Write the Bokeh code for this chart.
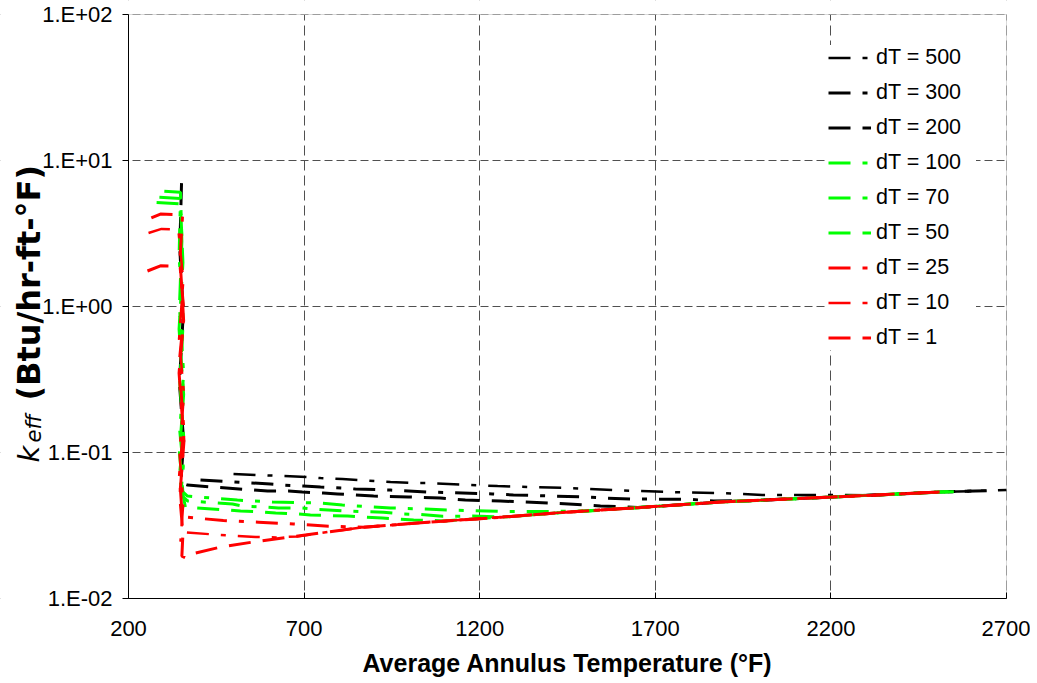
from bokeh.plotting import figure
from bokeh.models import FixedTicker, Label, Legend, LegendItem, Range1d, BoxAnnotation
from bokeh.embed import file_html
from bokeh.resources import INLINE
import math

# ---------------- data ----------------
x_ticks = [200, 700, 1200, 1700, 2200, 2700]
y_ticks = [0.01, 0.1, 1, 10, 100]
y_tick_labels = ["1.E-02", "1.E-01", "1.E+00", "1.E+01", "1.E+02"]
x_title = "Average Annulus Temperature (°F)"

series_labels = ["dT = 500", "dT = 300", "dT = 200", "dT = 100", "dT = 70",
                 "dT = 50", "dT = 25", "dT = 10", "dT = 1"]

x_dT500 = [499, 710, 747, 809, 946, 1009, 1046, 1251, 1450, 1649, 1743, 1886, 2005, 2199, 2320, 2512, 2700]
k_dT500 = [0.0712, 0.0679, 0.0668, 0.0658, 0.0628, 0.0618, 0.0618, 0.0589, 0.0571, 0.0545, 0.0536, 0.0527, 0.0512, 0.0511, 0.0510, 0.0536, 0.0553]

x_dT300 = [405, 604, 641, 698, 747, 809, 846, 946, 1051, 1236, 1296, 1410, 1496, 1552, 1638, 1800, 1866, 2000, 2207, 2512, 2650]
k_dT300 = [0.0649, 0.0608, 0.0598, 0.0589, 0.0580, 0.0571, 0.0562, 0.0553, 0.0536, 0.0520, 0.0512, 0.0503, 0.0496, 0.0488, 0.0480, 0.0478, 0.0465, 0.0471, 0.0496, 0.0536, 0.0548]

x_dT200 = [351, 346, 356, 345, 357, 349, 368, 556, 596, 656, 695, 755, 795, 898, 997, 1088, 1159, 1259, 1396, 1453, 1544, 1650, 1886, 2207, 2512, 2600]
k_dT200 = [7.0, 2.5, 0.9, 0.3, 0.12, 0.062, 0.0598, 0.0553, 0.0545, 0.0545, 0.0536, 0.0527, 0.0520, 0.0503, 0.0496, 0.0488, 0.0472, 0.0465, 0.0451, 0.0444, 0.0430, 0.0420, 0.0458, 0.0496, 0.0536, 0.0545]

x_dT100 = [302, 348, 352, 345, 357, 346, 356, 350, 368, 510, 610, 741, 809, 946, 1046, 1111, 1280, 1500, 1650, 1886, 2207, 2512, 2550]
k_dT100 = [6.15, 6.05, 2.8, 1.0, 0.35, 0.14, 0.08, 0.055, 0.0503, 0.0472, 0.0458, 0.0451, 0.0437, 0.0417, 0.0410, 0.0404, 0.0394, 0.0396, 0.0419, 0.0458, 0.0496, 0.0536, 0.0539]

x_dT70 = [288, 348, 344, 356, 346, 357, 345, 354, 368, 496, 525, 596, 627, 690, 727, 826, 926, 983, 1031, 1094, 1180, 1265, 1458, 1650, 1886, 2207, 2512, 2535]
k_dT70 = [5.6, 5.5, 2.2, 0.8, 0.3, 0.13, 0.07, 0.05, 0.0466, 0.0444, 0.0430, 0.0422, 0.0417, 0.0417, 0.0410, 0.0397, 0.0390, 0.0379, 0.0376, 0.0366, 0.0367, 0.0361, 0.0392, 0.0419, 0.0458, 0.0496, 0.0536, 0.0538]

x_dT50 = [280, 348, 355, 344, 357, 345, 356, 362, 482, 519, 584, 619, 684, 718, 824, 923, 1012, 1100, 1265, 1458, 1650, 1886, 2207, 2512, 2525]
k_dT50 = [5.15, 5.05, 2.0, 0.7, 0.25, 0.10, 0.05, 0.0422, 0.0404, 0.0397, 0.0391, 0.0385, 0.0379, 0.0373, 0.0367, 0.0356, 0.0345, 0.0340, 0.0361, 0.0392, 0.0419, 0.0458, 0.0496, 0.0536, 0.0537]

x_dT25 = [265, 291, 354, 346, 358, 344, 357, 345, 353, 362, 470, 570, 670, 770, 869, 1060, 1265, 1458, 1650, 1886, 2207, 2512]
k_dT25 = [4.04, 4.3, 4.25, 2.0, 0.9, 0.4, 0.15, 0.07, 0.037, 0.0361, 0.0342, 0.0333, 0.0324, 0.0313, 0.0308, 0.0334, 0.0361, 0.0392, 0.0419, 0.0458, 0.0496, 0.0536]

x_dT10 = [257, 294, 342, 356, 344, 358, 345, 356, 348, 356, 462, 562, 620, 680, 770, 869, 1060, 1265, 1458, 1650, 1886, 2207, 2505]
k_dT10 = [3.19, 3.4, 3.35, 1.5, 0.6, 0.25, 0.10, 0.045, 0.0245, 0.0285, 0.0272, 0.0264, 0.0262, 0.0266, 0.0286, 0.0308, 0.0334, 0.0361, 0.0392, 0.0419, 0.0458, 0.0496, 0.0535]

x_dT1 = [254, 291, 348, 357, 344, 358, 346, 355, 352, 362, 377, 462, 556, 661, 770, 869, 1060, 1265, 1458, 1650, 1886, 2207, 2500]
k_dT1 = [1.75, 1.9, 1.88, 0.8, 0.35, 0.12, 0.05, 0.028, 0.0195, 0.0190, 0.0201, 0.0225, 0.0244, 0.0264, 0.0286, 0.0308, 0.0334, 0.0361, 0.0392, 0.0419, 0.0458, 0.0496, 0.0535]

series_x = [x_dT500, x_dT300, x_dT200, x_dT100, x_dT70, x_dT50, x_dT25, x_dT10, x_dT1]
series_k = [k_dT500, k_dT300, k_dT200, k_dT100, k_dT70, k_dT50, k_dT25, k_dT10, k_dT1]

# ---------------- styles ----------------
BLACK, GREEN, RED = "#000000", "#00FF00", "#FF0000"
colors = [BLACK, BLACK, BLACK, GREEN, GREEN, GREEN, RED, RED, RED]
dashes = ["22 12 5 12", "22 12 5 12", "22 12", "22 12 5 12", "22 12 5 12", "22 12",
          "22 12 5 12", "22 12 5 12", "22 12"]
widths = [2.5, 3, 3, 3, 3, 3, 3, 2.5, 3]
FONT = "Liberation Sans"
TITLE_FONT = "DejaVu Sans"
GRID = "#505050"

# ---------------- layout geometry (canvas pixels) ----------------
W, H = 1030, 680
PL, PR, PT, PB = 128, 1006, 14, 598           # data-area edges
XMIN, XMAX = 200, 2700
LMIN, LMAX = -2, 2                            # log10 of y limits
x_per_px = (XMAX - XMIN) / (PR - PL)
dec_per_px = (LMAX - LMIN) / (PB - PT)
x_start = XMIN - PL * x_per_px
x_end = XMAX + (W - PR) * x_per_px
y_start = 10 ** (LMIN - (H - PB) * dec_per_px)
y_end = 10 ** (LMAX + PT * dec_per_px)


def X(px):
    return x_start + px * x_per_px


def Y(py):
    return 10 ** (math.log10(y_end) - py * dec_per_px)


p = figure(width=W, height=H, x_range=Range1d(x_start, x_end), y_range=Range1d(y_start, y_end),
           y_axis_type="log", output_backend="svg", toolbar_location=None, min_border=0)
p.title.visible = False
p.background_fill_color = "white"
p.border_fill_color = "white"
p.outline_line_color = None

# axes placed at the data-area edges
p.xaxis.fixed_location = y_ticks[0]
p.xaxis.bounds = (XMIN, XMAX)
p.yaxis.fixed_location = XMIN
p.yaxis.bounds = (y_ticks[0], y_ticks[-1])
p.xaxis.ticker = FixedTicker(ticks=x_ticks)
p.yaxis.ticker = FixedTicker(ticks=y_ticks)
p.yaxis.major_label_overrides = {t: l for t, l in zip(y_ticks, y_tick_labels)}
for ax in (p.xaxis, p.yaxis):
    ax.axis_line_color = "black"
    ax.axis_line_width = 1
    ax.major_tick_line_color = "black"
    ax.minor_tick_line_color = None
    ax.major_label_text_font = FONT
    ax.major_label_text_font_size = "22px"
    ax.major_label_text_color = "black"
p.yaxis.major_tick_out = 6
p.yaxis.major_tick_in = 0
p.yaxis.major_label_standoff = 10
p.xaxis.major_tick_out = 0
p.xaxis.major_tick_in = 6
p.xaxis.major_label_standoff = 22

# grid
p.xgrid.ticker = FixedTicker(ticks=x_ticks)
p.ygrid.ticker = FixedTicker(ticks=y_ticks)
p.xgrid.grid_line_color = GRID
p.xgrid.grid_line_dash = "10 5"
p.ygrid.grid_line_color = GRID
p.ygrid.grid_line_dash = "8 4"

# white masks restrict the grid to the data area; gray border on top/right
masks = [
    dict(left=x_start, right=XMIN, bottom=y_start, top=y_end),
    dict(left=XMAX, right=x_end, bottom=y_start, top=y_end),
    dict(left=x_start, right=x_end, bottom=y_ticks[-1], top=y_end),
    dict(left=x_start, right=x_end, bottom=y_start, top=y_ticks[0]),
]
for kw in masks:
    p.add_layout(BoxAnnotation(fill_color="white", fill_alpha=1.0, line_color=None,
                               level="underlay", **kw))
p.add_layout(BoxAnnotation(left=XMIN, right=XMAX, bottom=y_ticks[0], top=y_ticks[-1],
                           fill_color=None, fill_alpha=0, line_color="#868686", line_width=1,
                           level="underlay"))

# series
items = []
for lab, xs, ks, c, d, w in zip(series_labels, series_x, series_k, colors, dashes, widths):
    r = p.line(xs, ks, line_color=c, line_dash=d, line_width=w)
    items.append(LegendItem(label=lab, renderers=[r]))

legend = Legend(items=items, location=(828, 330), padding=8, spacing=10,
                label_height=25, glyph_height=25, glyph_width=43, label_standoff=5,
                label_width=100, margin=0,
                border_line_color=None, background_fill_color="white", background_fill_alpha=1.0,
                label_text_font=FONT, label_text_font_size="21.5px", label_text_color="black")
p.add_layout(legend)

# axis titles
p.add_layout(Label(x=X(567), y=Y(662), text=x_title, text_align="center", text_baseline="middle",
                   text_font=FONT, text_font_style="bold", text_font_size="25px", text_color="black"))
half = math.pi / 2
p.add_layout(Label(x=X(28), y=Y(462), text="k", angle=half,
                   text_font=TITLE_FONT, text_font_style="italic", text_font_size="29px",
                   text_align="left", text_baseline="alphabetic", text_color="black"))
p.add_layout(Label(x=X(33), y=Y(442), text="eff", angle=half,
                   text_font=TITLE_FONT, text_font_style="italic", text_font_size="21px",
                   text_align="left", text_baseline="alphabetic", text_color="black"))
p.add_layout(Label(x=X(28), y=Y(400), text="(Btu/hr-ft-°F)", angle=half,
                   text_font=TITLE_FONT, text_font_style="bold", text_font_size="32px",
                   text_align="left", text_baseline="alphabetic", text_color="black"))

open("out.html", "w").write(file_html(p, INLINE))
